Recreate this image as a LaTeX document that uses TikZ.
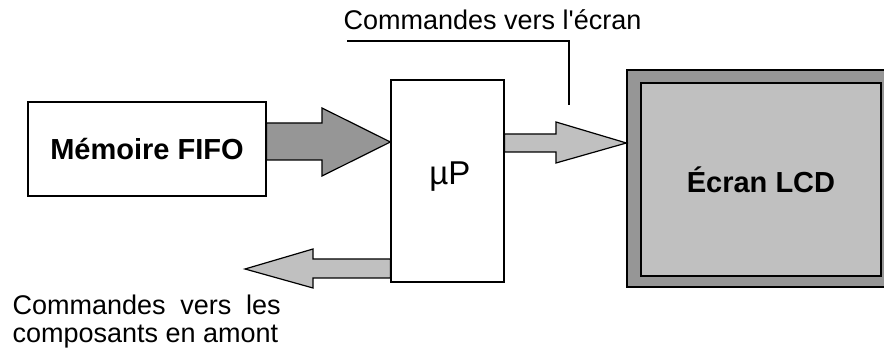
\documentclass[tikz,border=0pt]{standalone}
\usepackage{fontspec}
\setmainfont{Liberation Sans}
\usetikzlibrary{calc}
\definecolor{dgray}{RGB}{150,150,150}
\definecolor{lgray}{RGB}{192,192,192}
\begin{document}
\begin{tikzpicture}[x=0.5pt,y=-0.5pt, line width=0.6pt,
 box/.style={draw=black, fill=white, inner sep=0pt, rectangle},
 regtxt/.style={font=\fontsize{13.5}{14}\selectfont, inner sep=0pt},
 boldtxt/.style={font=\fontsize{14.5}{16}\selectfont\bfseries},
 blockarrow/.style={draw=black, line join=miter}]
\useasboundingbox (0,0) rectangle (884,351);
\node[box, minimum width=119pt, minimum height=47pt, boldtxt] (fifo) at (147,149) {Mémoire FIFO};
\node[box, minimum width=56.5pt, minimum height=101pt] (up) at (447.5,181) {};
\node[inner sep=0pt, font=\fontsize{16.5}{18}\selectfont, anchor=base] (uplbl) at (450,185) {µP};
\node[draw=black, fill=dgray, minimum width=131.5pt, minimum height=108.5pt, inner sep=0pt] (lcdout) at (758.5,178.5) {};
\node[draw=black, fill=lgray, minimum width=120pt, minimum height=96.5pt, inner sep=0pt, boldtxt] (lcd) at (761,179.5) {Écran LCD};
\draw[blockarrow, fill=dgray] (fifo.east |- 0,123) -- (322,123) -- (322,108) -- (up.west |- 0,142) -- (322,176) -- (322,160) -- (fifo.east |- 0,160) -- cycle;
\draw[blockarrow, fill=lgray] (up.east |- 0,134) -- (556,134) -- (556,122) -- (lcdout.west |- 0,143) -- (556,163) -- (556,152) -- (up.east |- 0,152) -- cycle;
\coordinate (ltip) at (245,269);
\draw[blockarrow, fill=lgray] (up.west |- 0,259) -- (313,259) -- (313,249) -- (ltip) -- (313,288) -- (313,278) -- (up.west |- 0,278) -- cycle;
\node[regtxt, anchor=base west] (lbl) at (343,30) {Commandes vers l\textquotesingle écran};
\coordinate (lblend) at (569,105);
\draw ($(lbl.base west)+(4,11)$) -| (lblend);
\node[regtxt, text width=134pt, align=justify, anchor=base west] (bot) at (12,315) {\hyphenpenalty=10000 Commandes vers les composants en amont};
\end{tikzpicture}
\end{document}
